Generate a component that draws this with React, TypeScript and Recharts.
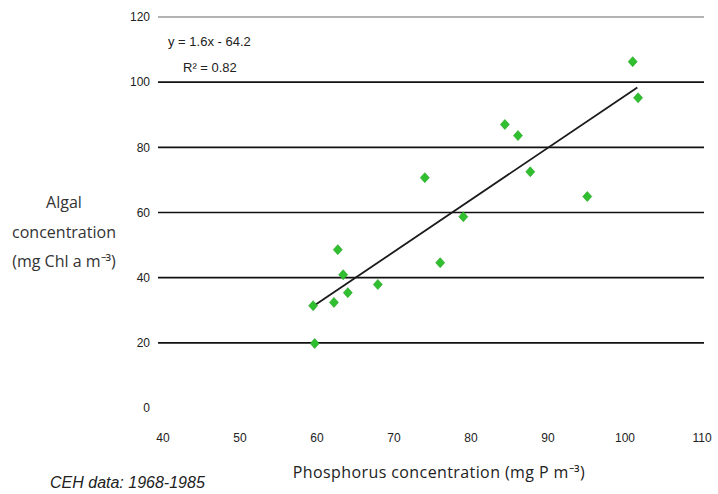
import { ScatterChart, Scatter, XAxis, YAxis, ZAxis, ReferenceLine } from 'recharts'

// phosphorus (mg P m-3) vs algal concentration (mg Chl a m-3)
const phosphorus = [59.5, 59.7, 62.2, 62.7, 63.4, 64.0, 67.9, 74.0, 76.0, 79.0, 84.4, 86.1, 87.7, 95.1, 101.0, 101.7]
const algae = [31.4, 19.8, 32.4, 48.6, 40.9, 35.4, 37.9, 70.7, 44.6, 58.7, 87.0, 83.6, 72.5, 64.9, 106.3, 95.2]

// ends of the fitted line as drawn
const trendX = [59.5, 101.6]
const trendY = [31.2, 98.4]

const xTicks = [40, 50, 60, 70, 80, 90, 100, 110]
const yTicks = [0, 20, 40, 60, 80, 100, 120]

const points = phosphorus.map((x, i) => ({ x, y: algae[i] }))
const trend = trendX.map((x, i) => ({ x, y: trendY[i] }))

const narrow = '"Liberation Sans Narrow", "Liberation Sans", Arial, sans-serif'
const tickStyle = { fontSize: 12, fill: '#222', fontFamily: narrow }

// small green rhombus like the excel marker
function Marker(props: any) {
  const { cx, cy } = props
  if (cx == null || cy == null) return <g />
  return (
    <polygon
      points={`${cx},${cy - 5} ${cx + 4.5},${cy} ${cx},${cy + 5} ${cx - 4.5},${cy}`}
      fill="#2fbf2f"
      stroke="#22a022"
      strokeWidth={0.6}
    />
  )
}

export default function App() {
  return (
    <div style={{ position: 'absolute', left: 0, top: 0, width: 718, height: 494, background: '#fff' }}>
      <ScatterChart
        width={718}
        height={494}
        margin={{ top: 17, right: 14, bottom: 56, left: 118 }}
      >
        <XAxis
          type="number"
          dataKey="x"
          domain={[39.35, 110.26]}
          allowDataOverflow
          ticks={xTicks}
          tick={tickStyle}
          axisLine={false}
          tickLine={false}
          tickMargin={19}
          height={30}
        />
        <YAxis
          type="number"
          dataKey="y"
          domain={[0, 120]}
          ticks={yTicks}
          tick={tickStyle}
          axisLine={false}
          tickLine={false}
          width={40}
        />
        <ZAxis range={[50, 50]} />
        {yTicks
          .filter((v) => v > 0)
          .map((v) => (
            <ReferenceLine
              key={v}
              y={v}
              stroke={v === 120 ? '#9a9a9a' : '#111'}
              strokeWidth={1.6}
            />
          ))}
        <Scatter
          data={trend}
          line={{ stroke: '#1a1a1a', strokeWidth: 1.8 }}
          shape={() => <g />}
          legendType="none"
          isAnimationActive={false}
        />
        <Scatter
          data={points}
          shape={<Marker />}
          fill="#2fbf2f"
          isAnimationActive={false}
        />
      </ScatterChart>

      <div style={{ position: 'absolute', left: 168, top: 34, fontSize: 13, fontFamily: narrow, color: '#222', whiteSpace: 'nowrap' }}>
        y = 1.6x - 64.2
      </div>
      <div style={{ position: 'absolute', left: 183, top: 60, fontSize: 13, fontFamily: narrow, color: '#222', whiteSpace: 'nowrap' }}>
        R² = 0.82
      </div>

      <div
        style={{
          position: 'absolute',
          left: -1,
          top: 188,
          width: 130,
          textAlign: 'center',
          fontSize: 16,
          lineHeight: '29.5px',
          fontFamily: '"Open Sans", sans-serif',
          color: '#333',
        }}
      >
        Algal
        <br />
        concentration
        <br />
        (mg Chl a m⁻³)
      </div>

      <div
        style={{
          position: 'absolute',
          left: 239,
          top: 461,
          width: 400,
          textAlign: 'center',
          fontSize: 16,
          letterSpacing: 0.4,
          fontFamily: '"Open Sans", sans-serif',
          color: '#222',
          whiteSpace: 'nowrap',
        }}
      >
        Phosphorus concentration (mg P m⁻³)
      </div>

      <div
        style={{
          position: 'absolute',
          left: 50,
          top: 474,
          fontSize: 16,
          fontStyle: 'italic',
          fontFamily: '"Liberation Sans", Arial, sans-serif',
          color: '#222',
          whiteSpace: 'nowrap',
        }}
      >
        CEH data: 1968-1985
      </div>
    </div>
  )
}
